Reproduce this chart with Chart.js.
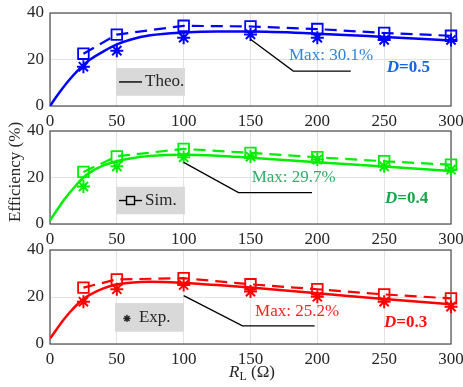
<!DOCTYPE html>
<html><head><meta charset="utf-8">
<script src="https://cdn.jsdelivr.net/npm/chart.js@4.4.1/dist/chart.umd.min.js"></script>
<style>
html,body{margin:0;padding:0;background:#fff;}
#wrap{position:relative;width:463px;height:387px;overflow:hidden;font-family:'Liberation Serif','Times New Roman',serif;color:#262626;}
canvas{position:absolute;left:0;}
#ytitle{position:absolute;left:-55px;top:162px;width:140px;height:20px;line-height:20px;text-align:center;font-size:17px;transform:rotate(-90deg);}
#xtitle{position:absolute;left:192px;top:362px;width:120px;height:20px;line-height:20px;text-align:center;font-size:17px;white-space:nowrap;}
#xtitle .sub{font-size:12px;position:relative;top:3px;}
</style></head>
<body><div id="wrap">
<canvas id="c1"></canvas><canvas id="c2"></canvas><canvas id="c3"></canvas>
<div id="ytitle">Efficiency (%)</div>
<div id="xtitle"><i>R</i><span class="sub">L</span> (Ω)</div>
</div>
<script>
// ---- data ----
const xTicks = [0, 50, 100, 150, 200, 250, 300];
const yTicks = [0, 20, 40];
const loadR = [25, 50, 100, 150, 200, 250, 300];
const theoR = [0, 5, 10, 15, 20, 25, 30, 40, 50, 60, 75, 100, 125, 150, 200, 250, 300];

const theoD05 = [0, 4.2, 8.1, 11.6, 14.8, 17.6, 20, 23.5, 26.5, 28.5, 30.4, 31.6, 32, 32, 31.1, 29.7, 28.2];
const simD05  = [22.5, 30.7, 34.5, 34.2, 33.1, 31.4, 30.2];
const expD05  = [16.9, 23.8, 29.4, 30.8, 29.4, 28.4, 28.4];

const theoD04 = [1.5, 5.8, 10, 13.6, 17, 20, 22.2, 25.2, 27, 28.2, 29.3, 29.8, 29.4, 28.5, 26.6, 24.7, 22.8];
const simD04  = [22.4, 29.1, 32.3, 30.6, 28.7, 27, 25.5];
const expD04  = [16.1, 24.8, 28.7, 29, 27.7, 24.8, 23.4];

const theoD03 = [2.3, 6.3, 10.2, 13.6, 16.6, 19.1, 21, 23.7, 25.3, 26.1, 26.5, 26, 25.1, 24, 21.6, 19.1, 16.9];
const simD03  = [24, 27.5, 28, 25.4, 23.3, 21.1, 19.4];
const expD03  = [18, 23.3, 25.1, 22.3, 20.1, 18, 15.9];

const maxLabels = ['Max: 30.1%', 'Max: 29.7%', 'Max: 25.2%'];
const dLabels = ['=0.5', '=0.4', '=0.3'];
const legendLabels = ['Theo.', 'Sim.', 'Exp.'];

// ---- drawing ----
const FONT = "'Liberation Serif','Times New Roman',serif";
const pts = (xs, ys) => xs.map((x, i) => ({x, y: ys[i]}));

function makeChart(id, T, B, p) {
  const padTop = 14, axisH = 22;
  const cv = document.getElementById(id);
  const H = padTop + (B - T) + axisH;
  cv.style.top = (T - padTop) + 'px';
  cv.width = 463; cv.height = H;
  cv.style.width = '463px'; cv.style.height = H + 'px';

  const deco = {
    id: 'deco' + id,
    beforeDatasetsDraw(chart) {
      const {ctx, chartArea: a} = chart;
      ctx.save();
      ctx.strokeStyle = '#4d4d4d'; ctx.lineWidth = 1.2;
      ctx.strokeRect(a.left, a.top, a.right - a.left, a.bottom - a.top);
      ctx.restore();
    },
    afterDatasetsDraw(chart) {
      const {ctx} = chart;
      const xs = chart.scales.x, ys = chart.scales.y;
      const X = v => xs.getPixelForValue(v), Y = v => ys.getPixelForValue(v);
      ctx.save();
      // legend box
      const bx0 = X(p.box[0]), bx1 = X(p.box[1]), by0 = Y(p.box[2]), by1 = Y(p.box[3]);
      ctx.fillStyle = '#d9d9d9';
      ctx.fillRect(bx0, by0, bx1 - bx0, by1 - by0);
      const cy = (by0 + by1) / 2;
      ctx.strokeStyle = '#000'; ctx.lineWidth = 1.4;
      if (p.kind === 'theo' || p.kind === 'sim') {
        ctx.beginPath(); ctx.moveTo(bx0 + 3, cy); ctx.lineTo(bx0 + 26, cy); ctx.stroke();
      }
      if (p.kind === 'sim') {
        ctx.fillStyle = '#d9d9d9';
        ctx.fillRect(bx0 + 10.5, cy - 4, 8, 8);
        ctx.strokeRect(bx0 + 10.5, cy - 4, 8, 8);
      }
      if (p.kind === 'exp') {
        ctx.strokeStyle = '#222';
        Chart.helpers.drawPoint(ctx, {pointStyle: 'star', radius: 3.6, borderWidth: 1}, bx0 + 12, cy + 1);
      }
      ctx.fillStyle = '#262626';
      ctx.font = '17px ' + FONT;
      ctx.textBaseline = 'middle'; ctx.textAlign = 'left';
      ctx.fillText(p.legend, bx0 + (p.kind === 'exp' ? 24 : 29), cy);
      // annotation line
      ctx.strokeStyle = '#000'; ctx.lineWidth = 1.3;
      ctx.beginPath();
      p.ann.forEach((q, i) => { i ? ctx.lineTo(X(q[0]), Y(q[1])) : ctx.moveTo(X(q[0]), Y(q[1])); });
      ctx.stroke();
      // texts
      ctx.fillStyle = p.maxColor;
      ctx.font = '17px ' + FONT;
      ctx.fillText(p.maxText, X(p.maxPos[0]), Y(p.maxPos[1]));
      ctx.fillStyle = p.dColor;
      ctx.font = 'italic bold 17px ' + FONT;
      const dx = X(p.dPos[0]), dy = Y(p.dPos[1]);
      ctx.fillText('D', dx, dy);
      const w = ctx.measureText('D').width;
      ctx.font = 'bold 17px ' + FONT;
      ctx.fillText(p.dText, dx + w, dy);
      ctx.restore();
    }
  };

  new Chart(cv, {
    type: 'line',
    data: {
      datasets: [
        {data: pts(theoR, p.theo), borderColor: p.color, borderWidth: 2.5, pointRadius: 0,
         cubicInterpolationMode: 'monotone', fill: false},
        {data: pts(loadR, p.sim), borderColor: p.color, borderWidth: 2.2, borderDash: [12, 7],
         pointStyle: 'rect', pointRadius: 7.5, pointBorderWidth: 1.8, pointBorderColor: p.color,
         pointBackgroundColor: 'rgba(0,0,0,0)', fill: false, clip: false},
        {data: pts(loadR, p.exp), showLine: false, borderColor: p.color,
         pointStyle: 'star', pointRadius: 6.5, pointBorderWidth: 2, pointBorderColor: p.color, clip: false}
      ]
    },
    options: {
      responsive: false, animation: false, devicePixelRatio: 1,
      layout: {padding: {top: padTop, left: 0, right: 12, bottom: 0}},
      plugins: {legend: {display: false}, tooltip: {enabled: false}},
      events: [],
      scales: {
        x: {type: 'linear', min: 0, max: 300,
          afterBuildTicks: s => { s.ticks = xTicks.map(v => ({value: v})); },
          ticks: {font: {family: FONT, size: 17}, color: '#262626', padding: 5, maxRotation: 0, autoSkip: false},
          grid: {color: '#e3e3e3', drawTicks: false, lineWidth: 1},
          border: {display: false},
          afterFit: s => { s.height = axisH; s.paddingLeft = 0; s.paddingRight = 0; }
        },
        y: {type: 'linear', min: 0, max: 40,
          afterBuildTicks: s => { s.ticks = yTicks.map(v => ({value: v})); },
          ticks: {font: {family: FONT, size: 17}, color: '#262626', padding: 6},
          grid: {color: '#e3e3e3', drawTicks: false, lineWidth: 1},
          border: {display: false},
          afterFit: s => { s.width = 50; s.paddingTop = 0; s.paddingBottom = 0; }
        }
      }
    },
    plugins: [deco]
  });
}

makeChart('c1', 13, 106, {
  color: '#0000ff', theo: theoD05, sim: simD05, exp: expD05,
  kind: 'theo', legend: legendLabels[0], box: [49.4, 101, 16.3, 4.4],
  ann: [[150, 28.7], [182, 15], [225, 15]],
  maxText: maxLabels[0], maxPos: [178.8, 21.6], maxColor: '#2f86d6',
  dText: dLabels[0], dPos: [252, 16.5], dColor: '#1166e8'
});
makeChart('c2', 131, 224, {
  color: '#00ee00', theo: theoD04, sim: simD04, exp: expD04,
  kind: 'sim', legend: legendLabels[1], box: [49.4, 101, 16.0, 4.2],
  ann: [[100, 26.5], [141, 13.5], [196, 13.5]],
  maxText: maxLabels[1], maxPos: [150.9, 19.8], maxColor: '#2fae68',
  dText: dLabels[1], dPos: [250.6, 11.1], dColor: '#18a64c'
});
makeChart('c3', 250, 344, {
  color: '#ff0000', theo: theoD03, sim: simD03, exp: expD03,
  kind: 'exp', legend: legendLabels[2], box: [48.6, 100.2, 17.4, 5.2],
  ann: [[100, 20.6], [144, 7.7], [198, 7.7]],
  maxText: maxLabels[2], maxPos: [153.4, 14], maxColor: '#ff2020',
  dText: dLabels[2], dPos: [249.9, 8.9], dColor: '#ff1010'
});
</script>
</body></html>
